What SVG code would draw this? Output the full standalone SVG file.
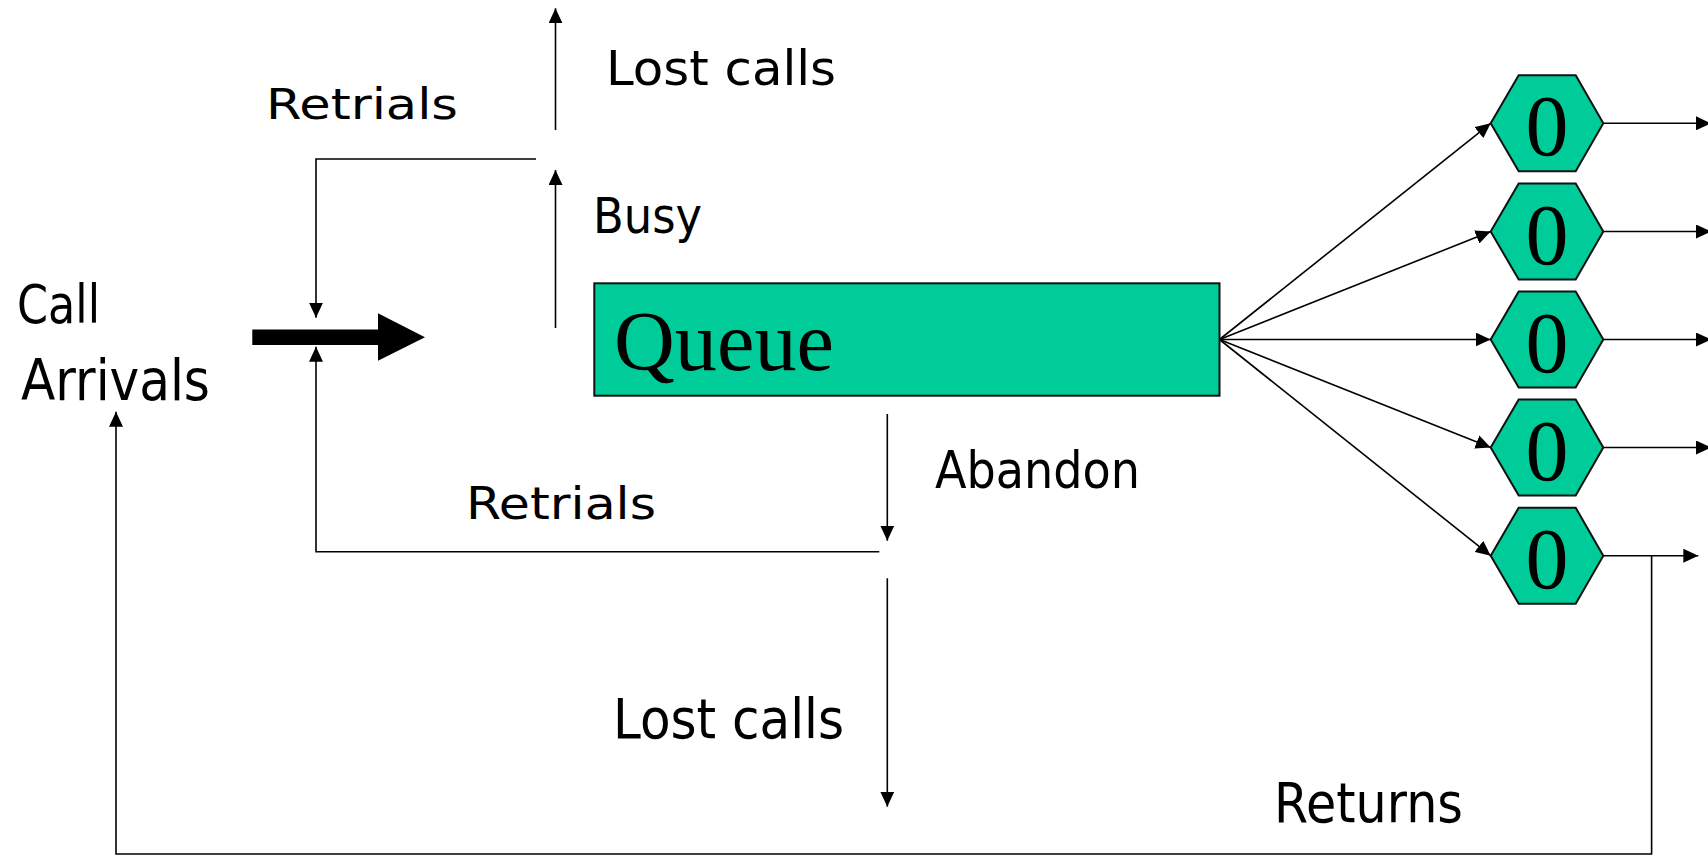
<svg xmlns="http://www.w3.org/2000/svg" width="1708" height="856" viewBox="0 0 1708 856">
  <style>
    .hand { font-family: "DejaVu Sans", "Noto Sans", sans-serif; fill: #000; }
    .serif { font-family: "Liberation Serif", "DejaVu Serif", serif; fill: #000; }
    .box { fill: #00CC99; stroke: #111; stroke-width: 2; }
    .wire { fill: none; stroke: #000; stroke-width: 1.6; }
  </style>
  <defs>
    <marker id="head" markerUnits="userSpaceOnUse" markerWidth="16" markerHeight="14" refX="15" refY="7" orient="auto">
      <path d="M0,0 L15,7 L0,14 z" fill="#000"/>
    </marker>
  </defs>

  <rect width="1708" height="856" fill="#fff"/>

  <!-- connectors -->
  <g id="connectors">
    <!-- incoming stream -->
    <polygon points="252.3,329.5 378,329.5 378,313.3 425,337.3 378,360.7 378,345 252.3,345" fill="#000"/>
    <!-- lost calls (top) and busy -->
    <line class="wire" x1="555.5" y1="130" x2="555.5" y2="8.3" marker-end="url(#head)"/>
    <line class="wire" x1="555.5" y1="328" x2="555.5" y2="170" marker-end="url(#head)"/>
    <!-- busy retrials back to arrivals -->
    <path class="wire" d="M536,159 H316 V317.7" marker-end="url(#head)"/>
    <!-- abandon and its retrials -->
    <line class="wire" x1="887.3" y1="414" x2="887.3" y2="540.7" marker-end="url(#head)"/>
    <path class="wire" d="M879.3,551.7 H316 V346.7" marker-end="url(#head)"/>
    <line class="wire" x1="887.3" y1="578.3" x2="887.3" y2="806.7" marker-end="url(#head)"/>
    <!-- queue to servers -->
    <line class="wire" x1="1219.5" y1="339.5" x2="1490.7" y2="123.3" marker-end="url(#head)"/>
    <line class="wire" x1="1219.5" y1="339.5" x2="1490.7" y2="231.5" marker-end="url(#head)"/>
    <line class="wire" x1="1219.5" y1="339.5" x2="1490.7" y2="339.5" marker-end="url(#head)"/>
    <line class="wire" x1="1219.5" y1="339.5" x2="1490.7" y2="447.5" marker-end="url(#head)"/>
    <line class="wire" x1="1219.5" y1="339.5" x2="1490.7" y2="555.7" marker-end="url(#head)"/>
    <!-- server outputs -->
    <line class="wire" x1="1603.3" y1="123.3" x2="1711" y2="123.3" marker-end="url(#head)"/>
    <line class="wire" x1="1603.3" y1="231.5" x2="1711" y2="231.5" marker-end="url(#head)"/>
    <line class="wire" x1="1603.3" y1="339.5" x2="1711" y2="339.5" marker-end="url(#head)"/>
    <line class="wire" x1="1603.3" y1="447.5" x2="1711" y2="447.5" marker-end="url(#head)"/>
    <line class="wire" x1="1603.3" y1="555.7" x2="1698.3" y2="555.7" marker-end="url(#head)"/>
    <!-- returns loop -->
    <path class="wire" d="M1651.6,555.7 V854 H116 V411.7" marker-end="url(#head)"/>
  </g>

  <!-- queue -->
  <g id="queue">
    <rect class="box" x="594.3" y="283.3" width="625.2" height="112.4"/>
    <text class="serif" x="614" y="370" font-size="85" textLength="220" lengthAdjust="spacingAndGlyphs">Queue</text>
  </g>

  <!-- servers -->
  <g id="server-1" transform="translate(1547,123.3)">
    <polygon class="box" points="-56.3,0 -28.3,-48 28.7,-48 56.3,0 28.7,48 -28.3,48"/>
    <text class="serif" x="0" y="32" font-size="86" text-anchor="middle">0</text>
  </g>
  <g id="server-2" transform="translate(1547,231.5)">
    <polygon class="box" points="-56.3,0 -28.3,-48 28.7,-48 56.3,0 28.7,48 -28.3,48"/>
    <text class="serif" x="0" y="32" font-size="86" text-anchor="middle">0</text>
  </g>
  <g id="server-3" transform="translate(1547,339.5)">
    <polygon class="box" points="-56.3,0 -28.3,-48 28.7,-48 56.3,0 28.7,48 -28.3,48"/>
    <text class="serif" x="0" y="32" font-size="86" text-anchor="middle">0</text>
  </g>
  <g id="server-4" transform="translate(1547,447.5)">
    <polygon class="box" points="-56.3,0 -28.3,-48 28.7,-48 56.3,0 28.7,48 -28.3,48"/>
    <text class="serif" x="0" y="32" font-size="86" text-anchor="middle">0</text>
  </g>
  <g id="server-5" transform="translate(1547,555.7)">
    <polygon class="box" points="-56.3,0 -28.3,-48 28.7,-48 56.3,0 28.7,48 -28.3,48"/>
    <text class="serif" x="0" y="32" font-size="86" text-anchor="middle">0</text>
  </g>

  <!-- flow labels -->
  <g id="labels">
    <text class="hand" x="17" y="322.7" font-size="53" textLength="83" lengthAdjust="spacingAndGlyphs">Call</text>
    <text class="hand" x="21" y="400" font-size="57" textLength="189" lengthAdjust="spacingAndGlyphs">Arrivals</text>
    <text class="hand" x="266" y="119.3" font-size="43" textLength="192" lengthAdjust="spacingAndGlyphs">Retrials</text>
    <text class="hand" x="606" y="85" font-size="48" textLength="230" lengthAdjust="spacingAndGlyphs">Lost calls</text>
    <text class="hand" x="593" y="233.3" font-size="50" textLength="109" lengthAdjust="spacingAndGlyphs">Busy</text>
    <text class="hand" x="466" y="519.3" font-size="44" textLength="190" lengthAdjust="spacingAndGlyphs">Retrials</text>
    <text class="hand" x="935" y="488.3" font-size="51" textLength="205" lengthAdjust="spacingAndGlyphs">Abandon</text>
    <text class="hand" x="613" y="738.3" font-size="55" textLength="231" lengthAdjust="spacingAndGlyphs">Lost calls</text>
    <text class="hand" x="1274" y="821.7" font-size="55" textLength="189" lengthAdjust="spacingAndGlyphs">Returns</text>
  </g>
</svg>
